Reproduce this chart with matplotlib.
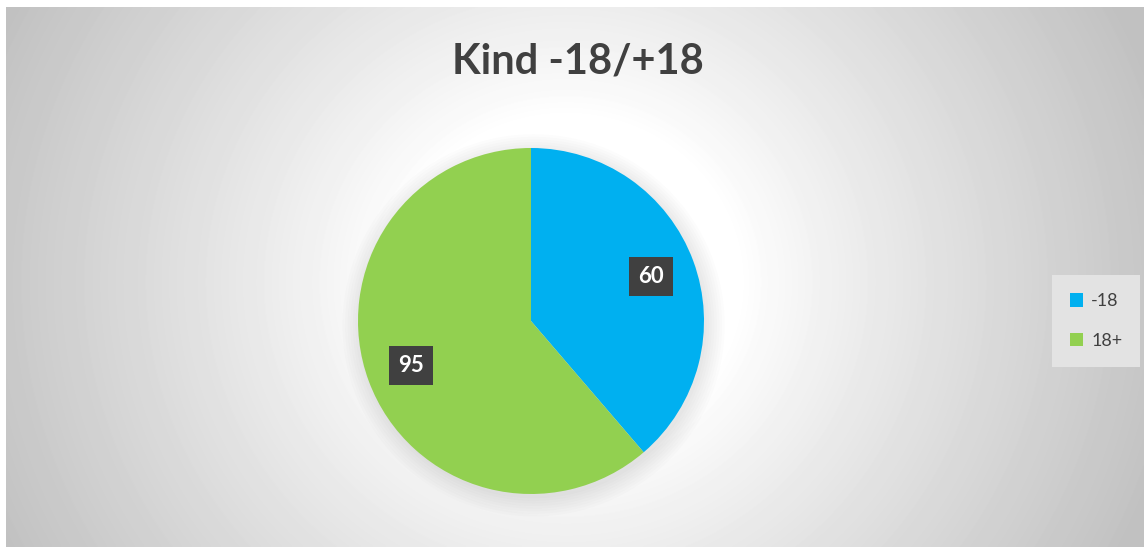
import matplotlib
matplotlib.use("Agg")
import matplotlib.pyplot as plt
import numpy as np
from matplotlib.patches import Circle

plt.rcParams["font.family"] = ["Lato", "DejaVu Sans"]

categories = ["-18", "18+"]
values = [60, 95]
colors = ["#00B0F0", "#92D050"]
title = "Kind -18/+18"

W, H = 1144, 547
fig = plt.figure(figsize=(W / 100, H / 100), dpi=100)
fig.patch.set_facecolor("white")

# chart area with radial gradient background
bg = fig.add_axes([6 / W, 0, (W - 6) / W, (H - 7) / H])
bg.set_axis_off()
yy, xx = np.mgrid[0:540, 0:1138]
d = np.hypot(xx - 560, (yy - 275) * 1.05) / 620
t = np.clip((d - 0.28) / 0.72, 0, 1) ** 0.9
shade = 1 - 0.24 * t
bg.imshow(shade, cmap="gray", vmin=0, vmax=1, aspect="auto",
          extent=[0, 1, 0, 1], origin="upper", interpolation="bilinear")
bg.set_xlim(0, 1)
bg.set_ylim(0, 1)

bg.text((578 - 6) / (W - 6), 1 - (61 - 7) / (H - 7), title,
        transform=bg.transAxes, ha="center", va="center",
        fontsize=30, fontweight="bold", color="#404040")

# pie axes
cx, cy, r = 531, 321, 173
ax = fig.add_axes([(cx - r) / W, (H - cy - r) / H, 2 * r / W, 2 * r / H])
ax.set_axis_off()

# soft shadow under the pie
for i in range(8):
    c = Circle((0.015, -0.025), 1.0 + 0.015 * i, color="black",
               alpha=0.012, lw=0, zorder=0)
    c.set_clip_on(False)
    ax.add_patch(c)

wedges, texts, autotexts = ax.pie(
    values, colors=colors, startangle=90, counterclock=False, radius=1,
    autopct=lambda p: f"{p * sum(values) / 100:.0f}", pctdistance=0.74,
    wedgeprops=dict(linewidth=0, zorder=2),
    textprops=dict(color="white", fontsize=16, fontweight="bold"),
)
for at in autotexts:
    at.set_zorder(5)
    at.set_bbox(dict(boxstyle="square,pad=0.4", facecolor="#404040",
                     edgecolor="none"))
ax.set_xlim(-1, 1)
ax.set_ylim(-1, 1)

leg = fig.legend(wedges, categories, loc="center",
                 bbox_to_anchor=(1096 / W, 1 - 321 / H),
                 frameon=True, fontsize=13, handlelength=0.75, handleheight=0.75,
                 labelspacing=1.3, borderpad=0.7, handletextpad=0.45,
                 borderaxespad=0, labelcolor="#404040")
leg.get_frame().set_facecolor("#E3E3E3")
leg.get_frame().set_edgecolor("none")
leg.get_frame().set_alpha(1)
leg.get_frame().set_boxstyle("square")

fig.savefig("out.png", dpi=100, facecolor=fig.get_facecolor())
